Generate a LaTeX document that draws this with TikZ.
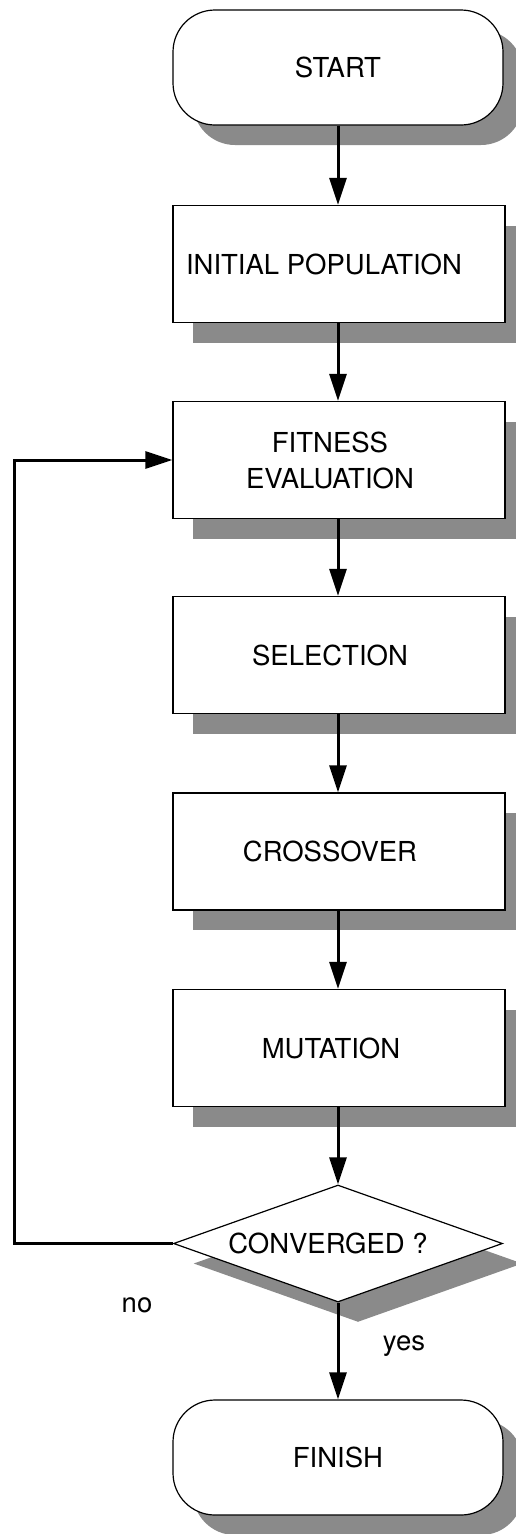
\documentclass[tikz,border=0pt]{standalone}
\usepackage{fontspec}
\setmainfont{TeX Gyre Heros}
\usetikzlibrary{arrows.meta,shapes.geometric,shadows}
\definecolor{shadowgray}{RGB}{138,138,138}
\begin{document}
\begin{tikzpicture}[x=1pt,y=-1pt,
  every node/.style={font=\fontsize{27.5}{36}\selectfont},
  shade/.style={drop shadow={shadow xshift=20pt,shadow yshift=-20pt,fill=shadowgray,opacity=1}},
  terminal/.style={shade,draw,fill=white,line width=1.2pt,rounded corners=42pt,
    minimum width=330pt,minimum height=115pt,inner sep=0pt},
  process/.style={shade,draw,fill=white,line width=1.2pt,
    minimum width=332pt,minimum height=117pt,inner sep=0pt},
  decision/.style={shade,draw,fill=white,line width=1.2pt,diamond,
    minimum width=329pt,minimum height=117pt,inner sep=0pt},
  flow/.style={line width=3pt,-{Triangle[length=27pt,width=17pt]}},
  answer/.style={anchor=base,inner sep=0pt},
]
\useasboundingbox (0,0) rectangle (516,1534);

% flowchart blocks
\node[terminal] (start)  at (338,67.5)  {START};
\node[process,label={[xshift=-15pt]center:INITIAL POPULATION}] (init) at (339,264) {};
\node[process,label={[xshift=-9pt,align=center]center:{FITNESS\\EVALUATION}}] (fit) at (339,460) {};
\node[process,label={[xshift=-9pt]center:SELECTION}] (sel) at (339,655) {};
\node[process,label={[xshift=-9pt]center:CROSSOVER}] (cross) at (339,851.5) {};
\node[process,label={[xshift=-8pt]center:MUTATION}] (mut) at (339,1048) {};
\node[decision,label={[xshift=-10pt]center:CONVERGED ?}] (conv) at (338,1243.5) {};
\node[terminal] (finish) at (338,1457.5) {FINISH};

% branch labels
\node[answer] (no)  at (137,1312) {no};
\node[answer] (yes) at (404,1350) {yes};

% connectors
\draw[flow] (start.south) -- (init.north -| start.south);
\draw[flow] (init.south -| start.south) -- (fit.north -| start.south);
\draw[flow] (fit.south -| start.south) -- (sel.north -| start.south);
\draw[flow] (sel.south -| start.south) -- (cross.north -| start.south);
\draw[flow] (cross.south -| start.south) -- (mut.north -| start.south);
\draw[flow] (mut.south -| conv.north) -- (conv.north);
\draw[flow] (conv.south) -- (finish.north);
\draw[flow] (conv.west) -- ++(-158,0) |- (fit.west);
\end{tikzpicture}
\end{document}
